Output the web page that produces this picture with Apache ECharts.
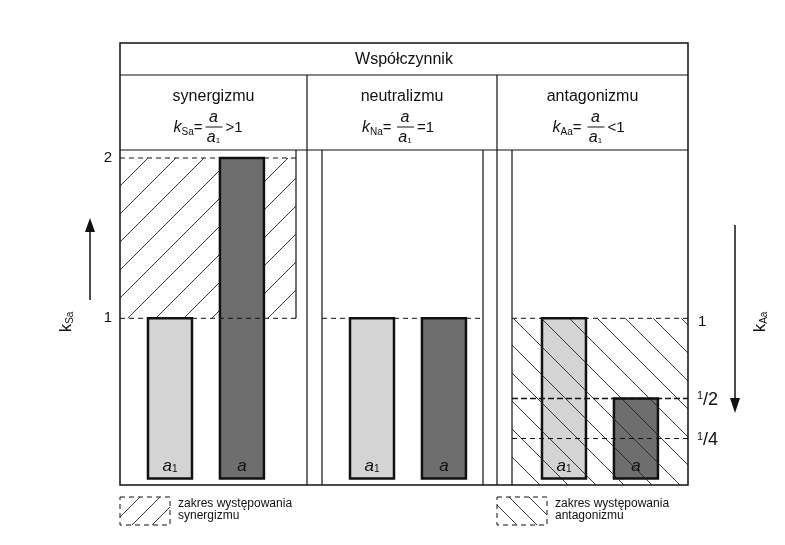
<!DOCTYPE html><html><head><meta charset="utf-8">
<script src="https://cdn.jsdelivr.net/npm/echarts@6/dist/echarts.min.js"></script>
<style>body{margin:0;background:#fff}#c{width:785px;height:545px}</style></head><body><div id="c"></div>
<script>
const groups = ['synergizmu','neutralizmu','antagonizmu'];
const subs = ['Sa','Na','Aa'];
const rel = ['>1','=1','<1'];
const a1Values = [1, 1, 1];
const aValues = [2, 1, 0.5];
const leftTicks = [1, 2];
const rightTicks = [{v:1,t:'1'},{v:0.5,t:'1/2'},{v:0.25,t:'1/4'}];
const groupOffset = [0.264, 0.331, 0.345];

const chart = echarts.init(document.getElementById('c'));
const F = 'Liberation Sans, Arial, sans-serif';
const barData = [];
groups.forEach((g,i)=>{ barData.push([i+groupOffset[i],a1Values[i],0]); barData.push([i+groupOffset[i]+0.38,aValues[i],1]); });

function hatchLines(x0,y0,x1,y1,step,dir){
  const out=[]; const h=y1-y0;
  for(let c=x0-h; c<x1+h; c+=step){
    let ax=c, bx=c+h, ay=dir>0?y1:y0, by=dir>0?y0:y1;
    let t0=0,t1=1; const dx=bx-ax;
    let ta=(x0-ax)/dx, tb=(x1-ax)/dx; t0=Math.max(t0,Math.min(ta,tb)); t1=Math.min(t1,Math.max(ta,tb));
    if(t1>t0) out.push({type:'line',shape:{x1:ax+dx*t0,y1:ay+(by-ay)*t0,x2:ax+dx*t1,y2:ay+(by-ay)*t1},style:{stroke:'#222',lineWidth:0.9},silent:true});
  }
  return out;
}

chart.setOption({
  animation:false,
  grid:{left:120,right:97,top:150,bottom:60},
  xAxis:{type:'value',min:0,max:3,show:false},
  yAxis:{type:'value',min:-0.04,max:2.05,splitLine:{show:false},axisLine:{show:false},axisTick:{show:false},axisLabel:{show:false}},
  series:[{
    type:'custom', data:barData, z:2,
    renderItem:(p,api)=>{
      const x=api.value(0), v=api.value(1), k=api.value(2);
      const pa=api.coord([x,v]), pb=api.coord([x,0]);
      const w=44;
      return {type:'group',children:[
        {type:'rect',shape:{x:pa[0]-w/2,y:pa[1],width:w,height:pb[1]-pa[1]},style:{fill:k?'#6e6e6e':'#d4d4d4',stroke:'#111',lineWidth:2.5}},
        {type:'text',style:{text:k?'{i|a}':'{i|a}{s|1}',x:pa[0],y:pb[1]-4,align:'center',verticalAlign:'bottom',
          rich:{i:{fontFamily:F,fontStyle:'italic',fontSize:17,fill:'#111'},s:{fontFamily:F,fontSize:10,fill:'#111',padding:[6,0,0,0]}}}}
      ]};
    }
  }]
});

function P(x,y){return chart.convertToPixel({gridIndex:0},[x,y]);}
const g=[]; const L=120,R=688,T=43,B=485;
const y1=P(0,1)[1], y2=P(0,2)[1], yh=P(0,0.5)[1], yq=P(0,0.25)[1];
const line=(x1,y1_,x2,y2_,w,d)=>g.push({type:'line',shape:{x1,y1:y1_,x2,y2:y2_},style:{stroke:'#111',lineWidth:w||1.2,lineDash:d||null},z:10});
hatchLines(L,y2,296,y1,28,1).forEach(e=>g.push(Object.assign(e,{z:1})));
hatchLines(512,y1,R,B,28,-1).forEach(e=>g.push(Object.assign(e,{z:10})));
g.push({type:'rect',shape:{x:L,y:T,width:R-L,height:B-T},style:{fill:'none',stroke:'#111',lineWidth:1.5},z:10});
line(L,75,R,75); line(L,150,R,150);
line(307,75,307,B); line(322,150,322,B); line(483,150,483,B); line(497,75,497,B); line(512,150,512,B); line(296,150,296,y1);
line(L,y2,296,y2,1,[5,4]); line(L,y1,296,y1,1,[5,4]); line(322,y1,483,y1,1,[5,4]); line(512,y1,R,y1,1,[5,4]);
line(512,yh,R,yh,1.5,[6,3]); line(512,yq,R,yq,1,[5,4]);
const t=(text,x,y,o)=>g.push({type:'text',z:11,style:Object.assign({text,x,y,fontFamily:F,fontSize:16,fill:'#111',align:'center',verticalAlign:'middle'},o||{})});
t('Współczynnik',(L+R)/2,60);
const cols=[[L,307],[307,497],[497,R]];
groups.forEach((n,i)=>{
  const cx=(cols[i][0]+cols[i][1])/2; t(n,cx,97);
  const bx=cx-40;
  t('{k|k}{s|'+subs[i]+'}{e|=}',bx,128,{align:'left',rich:{k:{fontFamily:F,fontStyle:'italic',fontSize:16,fill:'#111'},s:{fontFamily:F,fontSize:10,fill:'#111',padding:[8,0,0,0]},e:{fontFamily:F,fontSize:15,fill:'#111'}}});
  const fx=bx+(i===0?32:35);
  t('a',fx+8,118,{fontStyle:'italic',fontSize:16});
  line(fx,127,fx+17,127,1);
  t('{i|a}{s|1}',fx+8,138,{rich:{i:{fontFamily:F,fontStyle:'italic',fontSize:16,fill:'#111'},s:{fontFamily:F,fontSize:8,fill:'#111',padding:[6,0,0,0]}}});
  t(rel[i],fx+20,128,{align:'left',fontSize:15});
});
leftTicks.forEach(v=>t(String(v),108,P(0,v)[1],{fontSize:15}));
g.push({type:'line',shape:{x1:90,y1:300,x2:90,y2:228},style:{stroke:'#111',lineWidth:1.5},z:10});
g.push({type:'polygon',shape:{points:[[85,232],[95,232],[90,218]]},style:{fill:'#111'},z:10});
const vlab=(x,y,s)=>g.push({type:'group',x,y,rotation:Math.PI/2,z:11,children:[{type:'text',style:{text:'{k|k}{s|'+s+'}',x:0,y:0,align:'center',verticalAlign:'middle',rich:{k:{fontFamily:F,fontSize:17,fill:'#111'},s:{fontFamily:F,fontSize:10,fill:'#111',padding:[8,0,0,0]}}}}]});
vlab(66,322,'Sa'); vlab(760,322,'Aa');
rightTicks.forEach(r=>{
  const y=P(0,r.v)[1];
  if(r.t==='1') t('1',698,y+4,{align:'left',fontSize:15});
  else t('{a|1}{b|/'+r.t.split('/')[1]+'}',697,y+2,{align:'left',rich:{a:{fontFamily:F,fontSize:11,fill:'#111',padding:[0,0,8,0]},b:{fontFamily:F,fontSize:18,fill:'#111'}}});
});
g.push({type:'line',shape:{x1:735,y1:225,x2:735,y2:400},style:{stroke:'#111',lineWidth:1.5},z:10});
g.push({type:'polygon',shape:{points:[[730,398],[740,398],[735,413]]},style:{fill:'#111'},z:10});
function leg(x,dir,txt){
  g.push({type:'rect',shape:{x,y:497,width:50,height:28},style:{fill:'none',stroke:'#111',lineWidth:1,lineDash:[5,4]},z:10});
  hatchLines(x,497,x+50,525,20,dir).forEach(e=>g.push(Object.assign(e,{z:10})));
  t(txt,x+58,510,{align:'left',fontSize:12,lineHeight:12});
}
leg(120,1,'zakres występowania\nsynergizmu');
leg(497,-1,'zakres występowania\nantagonizmu');
chart.setOption({graphic:g});
</script></body></html>
